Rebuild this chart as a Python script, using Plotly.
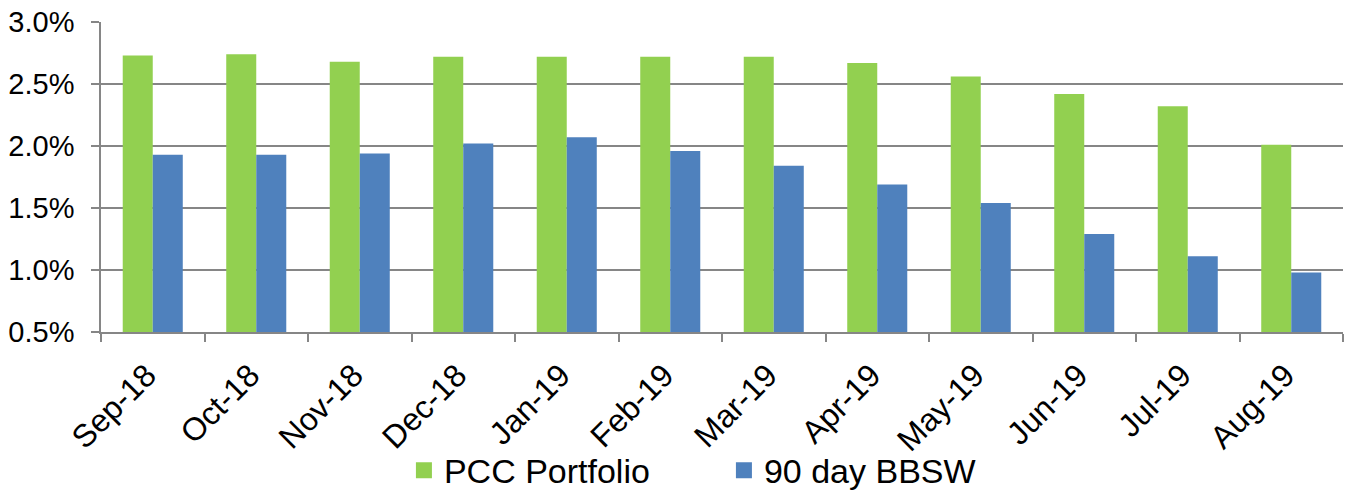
import plotly.graph_objects as go

months = ["Sep-18", "Oct-18", "Nov-18", "Dec-18", "Jan-19", "Feb-19",
          "Mar-19", "Apr-19", "May-19", "Jun-19", "Jul-19", "Aug-19"]
pcc_portfolio = [2.73, 2.74, 2.68, 2.72, 2.72, 2.72, 2.72, 2.67, 2.56, 2.42, 2.32, 2.01]
bbsw_90day = [1.93, 1.93, 1.94, 2.02, 2.07, 1.96, 1.84, 1.69, 1.54, 1.29, 1.11, 0.98]
y_ticks = [0.5, 1.0, 1.5, 2.0, 2.5, 3.0]

GREEN = "#92D050"
BLUE = "#4F81BD"
FONT = "Arial, Liberation Sans, sans-serif"

fig = go.Figure()
fig.add_trace(go.Bar(x=months, y=pcc_portfolio, name="PCC Portfolio",
                     marker=dict(color=GREEN, line=dict(width=0)), showlegend=False))
fig.add_trace(go.Bar(x=months, y=bbsw_90day, name="90 day BBSW",
                     marker=dict(color=BLUE, line=dict(width=0)), showlegend=False))
# legend entries (square swatches)
fig.add_trace(go.Scatter(x=[None], y=[None], mode="markers", name="PCC Portfolio",
                         marker=dict(symbol="square", size=16, color=GREEN)))
fig.add_trace(go.Scatter(x=[None], y=[None], mode="markers", name="90 day BBSW",
                         marker=dict(symbol="square", size=16, color=BLUE)))

fig.update_layout(
    width=1351, height=490,
    margin=dict(l=101, r=8, t=22, b=158, autoexpand=False),
    paper_bgcolor="white", plot_bgcolor="white",
    barmode="group", bargap=0.42, bargroupgap=0,
    font=dict(family=FONT, color="black"),
    showlegend=True,
    legend=dict(orientation="h", x=0.2439, xanchor="left", y=-0.447, yanchor="middle",
                font=dict(size=34, family=FONT, color="black"),
                entrywidth=275, bgcolor="rgba(0,0,0,0)"),
    xaxis=dict(type="category", tickson="boundaries", ticks="outside", ticklen=8,
               tickcolor="#868686", tickwidth=1.5, automargin=False,
               showline=True, linecolor="#868686", linewidth=1.5,
               showgrid=False, tickangle=-45, ticklabeloverflow="allow",
               ticklabelstandoff=10, ticklabelshift=-6,
               tickfont=dict(size=32, family=FONT, color="black")),
    yaxis=dict(range=[0.5, 3.0], tickvals=y_ticks, ticktext=[f"{v:.1f}%" for v in y_ticks],
               ticks="outside", ticklen=8, tickcolor="#868686", tickwidth=1.5,
               automargin=False, ticklabelstandoff=11, ticklabeloverflow="allow",
               showline=True, linecolor="#868686", linewidth=1.5,
               showgrid=True, gridcolor="#868686", gridwidth=1.5,
               zeroline=False,
               tickfont=dict(size=29, family=FONT, color="black")),
)

fig.write_html("out.html", config={"displayModeBar": False},
               post_script="document.body.style.margin='0';")
